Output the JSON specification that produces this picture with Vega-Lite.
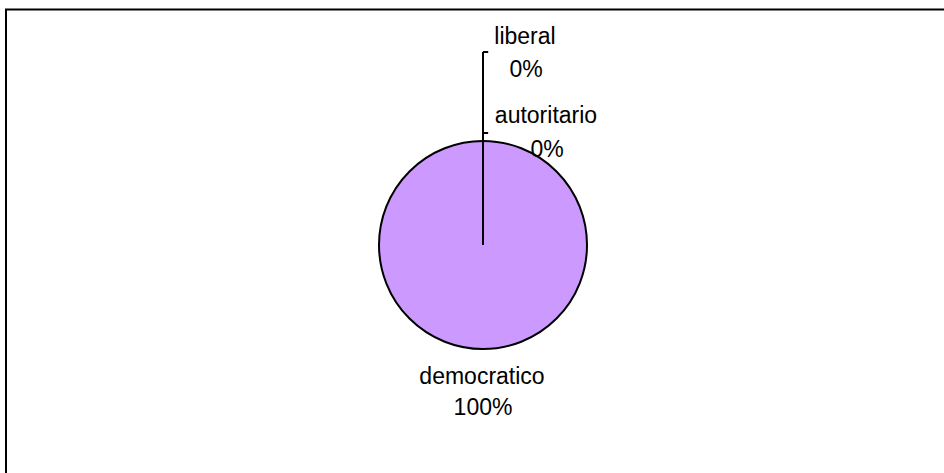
{
  "$schema": "https://vega.github.io/schema/vega-lite/v6.json",
  "width": 954,
  "height": 471,
  "autosize": "none",
  "padding": {"left": 6, "top": 9.5, "right": -16, "bottom": -7.5},
  "background": "white",
  "view": {"stroke": "black", "strokeWidth": 2, "fill": "white"},
  "data": {
    "values": [
      {"label": "liberal", "share": 0},
      {"label": "autoritario", "share": 0},
      {"label": "democratico", "share": 1}
    ]
  },
  "config": {
    "text": {"font": "Liberation Sans", "fontSize": 23, "fill": "black", "baseline": "alphabetic", "align": "center"}
  },
  "layer": [
    {
      "mark": {"type": "arc", "outerRadius": 104, "fill": "#CC99FF", "stroke": "black", "strokeWidth": 2},
      "encoding": {"theta": {"field": "share", "type": "quantitative", "stack": true}}
    },
    {
      "mark": {"type": "arc", "outerRadius": 193, "fillOpacity": 0, "stroke": "black", "strokeWidth": 2},
      "encoding": {
        "theta": {"field": "share", "type": "quantitative", "stack": true},
        "strokeOpacity": {"condition": {"test": "datum.share === 0", "value": 1}, "value": 0}
      }
    },
    {
      "transform": [{"filter": "datum.label === 'liberal'"}],
      "mark": {"type": "arc", "theta": 0, "theta2": 0.027, "innerRadius": 192, "outerRadius": 194, "fill": "black"},
      "encoding": {}
    },
    {
      "transform": [{"filter": "datum.label === 'autoritario'"}],
      "mark": {"type": "arc", "theta": 0, "theta2": 0.046, "innerRadius": 111, "outerRadius": 113, "fill": "black"},
      "encoding": {}
    },
    {
      "mark": {"type": "text", "radius": 201, "dx": 42},
      "encoding": {
        "theta": {"field": "share", "type": "quantitative", "stack": true},
        "text": {"condition": {"test": "datum.label === 'liberal'", "field": "label", "type": "nominal"}, "value": ""}
      }
    },
    {
      "mark": {"type": "text", "radius": 168, "dx": 43},
      "encoding": {
        "theta": {"field": "share", "type": "quantitative", "stack": true},
        "text": {"condition": {"test": "datum.label === 'liberal'", "field": "share", "type": "quantitative", "format": ".0%"}, "value": ""}
      }
    },
    {
      "mark": {"type": "text", "radius": 122, "dx": 63},
      "encoding": {
        "theta": {"field": "share", "type": "quantitative", "stack": true},
        "text": {"condition": {"test": "datum.label === 'autoritario'", "field": "label", "type": "nominal"}, "value": ""}
      }
    },
    {
      "mark": {"type": "text", "radius": 88, "dx": 64},
      "encoding": {
        "theta": {"field": "share", "type": "quantitative", "stack": true},
        "text": {"condition": {"test": "datum.label === 'autoritario'", "field": "share", "type": "quantitative", "format": ".0%"}, "value": ""}
      }
    },
    {
      "mark": {"type": "text", "radius": 139, "dx": -1},
      "encoding": {
        "theta": {"field": "share", "type": "quantitative", "stack": true},
        "text": {"condition": {"test": "datum.label === 'democratico'", "field": "label", "type": "nominal"}, "value": ""}
      }
    },
    {
      "mark": {"type": "text", "radius": 170, "dx": 0},
      "encoding": {
        "theta": {"field": "share", "type": "quantitative", "stack": true},
        "text": {"condition": {"test": "datum.label === 'democratico'", "field": "share", "type": "quantitative", "format": ".0%"}, "value": ""}
      }
    }
  ]
}
